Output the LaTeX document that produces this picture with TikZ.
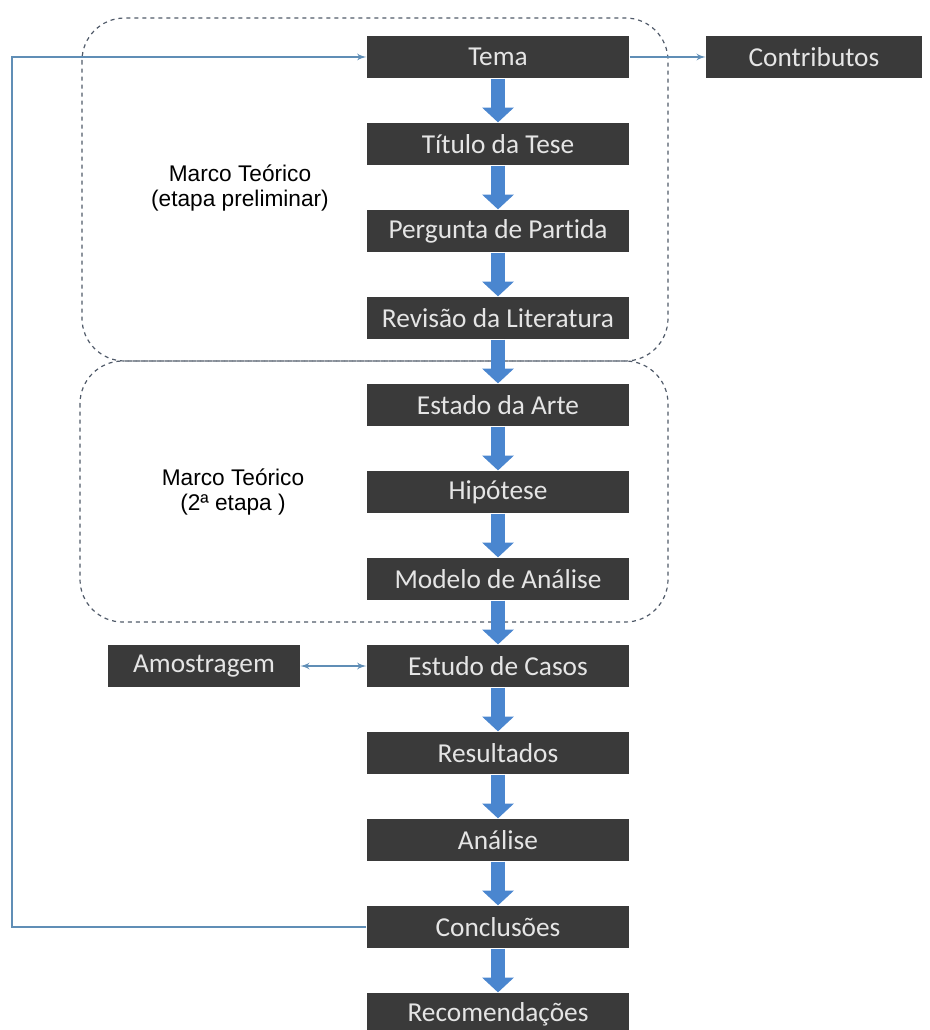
\documentclass[tikz,border=0pt]{standalone}
\usepackage{fontspec}
\setmainfont{Carlito}[Ligatures=CommonOff]
\newfontfamily\lblfont{Liberation Sans}
\usetikzlibrary{positioning,shapes,arrows,arrows.meta}
\definecolor{boxgray}{RGB}{58,58,58}
\definecolor{flowblue}{RGB}{74,134,207}
\definecolor{linkblue}{RGB}{96,142,182}
\definecolor{framegray}{RGB}{80,90,105}
\tikzstyle{stage} = [rectangle, fill=boxgray, text=white!90!black, minimum width=197pt, minimum height=32pt, inner sep=0pt, font=\fontsize{20.5}{24}\selectfont]
\tikzstyle{side} = [stage, minimum width=162pt]
\tikzstyle{phase} = [text centered, align=center, font=\lblfont\fontsize{17}{18.5}\selectfont]
\tikzstyle{frame} = [draw=framegray, dashed, line width=0.9pt, rounded corners=32pt]
\tikzstyle{flow} = [draw=flowblue, line width=11pt, -{Triangle[width=23pt,length=11pt]}]
\tikzstyle{link} = [draw=linkblue, line width=1.4pt, -latex']

\begin{document}
\begin{tikzpicture}[x=0.75pt, y=-0.75pt]
        \useasboundingbox (0,0) rectangle (930,1030);
        % Dashed frames
        \draw [frame] (82,18) rectangle (668,361);
        \draw [frame] (80,361) rectangle (668,622);
        % Place nodes
        \node at (498, 57) [stage] (tema) {Tema};
        \node at (498, 144) [stage] (titulo) {Título da Tese};
        \node at (498, 231) [stage] (pergunta) {Pergunta de Partida};
        \node at (498, 318) [stage] (revisao) {Revisão da Literatura};
        \node at (498, 405) [stage] (estado) {Estado da Arte};
        \node at (498, 492) [stage] (hipotese) {Hipótese};
        \node at (498, 579) [stage] (modelo) {Modelo de Análise};
        \node at (498, 666) [stage] (estudo) {Estudo de Casos};
        \node at (498, 753) [stage] (result) {Resultados};
        \node at (498, 840) [stage] (analise) {Análise};
        \node at (498, 927) [stage] (concl) {Conclusões};
        \node at (498, 1014) [stage] (recom) {Recomendações};
        \node at (814, 57) [side] (contrib) {Contributos};
        \node at (204, 666) [side, minimum width=144pt] (amostra) {Amostragem};
        \node at (240, 188) [phase] (marco1) {Marco Teórico\\(etapa preliminar)};
        \node at (233, 492) [phase] (marco2) {Marco Teórico\\(2ª etapa )};
        \coordinate (back) at (12, 927);

        % Draw edges
        \path [flow] (tema) -- (titulo);
        \path [flow] (titulo) -- (pergunta);
        \path [flow] (pergunta) -- (revisao);
        \path [flow] (revisao) -- (estado);
        \path [flow] (estado) -- (hipotese);
        \path [flow] (hipotese) -- (modelo);
        \path [flow] (modelo) -- (estudo);
        \path [flow] (estudo) -- (result);
        \path [flow] (result) -- (analise);
        \path [flow] (analise) -- (concl);
        \path [flow] (concl) -- (recom);
        \path [link] (tema) -- (contrib);
        \path [link, latex'-latex'] (amostra) -- (estudo);
        \path [link] (concl.west) -- (back) |- (tema.west);
    \end{tikzpicture}
\end{document}
